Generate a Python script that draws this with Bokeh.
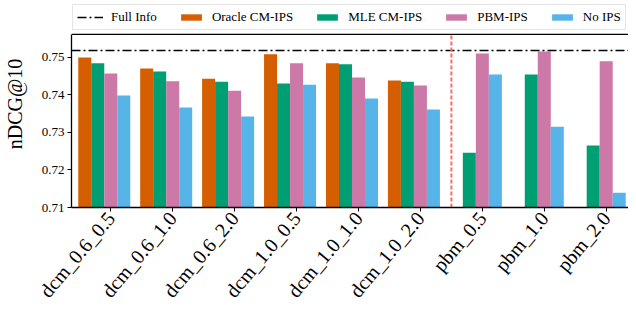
import math
from bokeh.plotting import figure
from bokeh.models import ColumnDataSource, Span, Legend, LegendItem, FixedTicker
from bokeh.embed import file_html
from bokeh.resources import INLINE

categories = ["dcm_0.6_0.5", "dcm_0.6_1.0", "dcm_0.6_2.0", "dcm_1.0_0.5", "dcm_1.0_1.0",
              "dcm_1.0_2.0", "pbm_0.5", "pbm_1.0", "pbm_2.0"]
oracle_cm_ips = [0.7499, 0.7470, 0.7443, 0.7508, 0.7484, 0.7438, None, None, None]
mle_cm_ips = [0.7484, 0.7462, 0.7435, 0.7430, 0.7481, 0.7435, 0.7246, 0.7454, 0.7265]
pbm_ips = [0.7457, 0.7436, 0.7411, 0.7484, 0.7446, 0.7425, 0.7510, 0.7515, 0.7489]
no_ips = [0.7398, 0.7366, 0.7342, 0.7427, 0.7390, 0.7361, 0.7454, 0.7315, 0.7139]
full_info = 0.7518
series_names = ["Oracle CM-IPS", "MLE CM-IPS", "PBM-IPS", "No IPS"]
series_values = [oracle_cm_ips, mle_cm_ips, pbm_ips, no_ips]
colors = ["#D55E00", "#009E73", "#CC79A7", "#56B4E9"]
y_ticks = [0.71, 0.72, 0.73, 0.74, 0.75]

FONT = "Liberation Serif"
bar_w = 0.21
offsets = [-2 * bar_w, -bar_w, 0.0, bar_w]
X_LO, X_HI = -0.634, 8.36
Y0, Y1 = 0.71, 0.7561          # axis limits of the plotting box
Y_EXT = 0.7651                 # range extended upward to leave room for the legend

p = figure(width=628, height=311, output_backend="svg", toolbar_location=None,
           x_range=(X_LO, X_HI), y_range=(Y0, Y_EXT),
           min_border_left=65, min_border_right=0, min_border_top=0, min_border_bottom=104)
p.xgrid.visible = False
p.ygrid.visible = False
p.outline_line_color = None

renderers = []
for name, vals, col, off in zip(series_names, series_values, colors, offsets):
    xs = [i + off for i, v in enumerate(vals) if v is not None]
    tops = [v for v in vals if v is not None]
    src = ColumnDataSource(dict(x=xs, top=tops))
    r = p.vbar(x="x", top="top", bottom=0.70, width=bar_w, source=src,
               fill_color=col, line_color=None)
    renderers.append((name, r))

# top spine of the plotting box
p.add_layout(Span(location=Y1, dimension="width", line_color="black", line_width=1.3))

# Full info reference line across the whole plot
full_line = p.line(x=[X_LO, X_HI], y=[full_info, full_info], line_color="black",
                   line_width=1.4, line_dash="9 3 2 3")

# separator between dcm and pbm groups
sep_x = (5 + 6) / 2
p.segment(x0=[sep_x], y0=[Y0], x1=[sep_x], y1=[Y1], line_color="#ff6b6b",
          line_width=2, line_dash="4 2")

# axes
p.xaxis.ticker = FixedTicker(ticks=list(range(len(categories))))
p.xaxis.major_label_overrides = {i: c for i, c in enumerate(categories)}
p.xaxis.major_label_orientation = math.radians(50)
p.xaxis.major_label_text_font = FONT
p.xaxis.major_label_text_font_size = "20px"
p.xaxis.major_label_text_color = "black"
p.yaxis.ticker = FixedTicker(ticks=y_ticks)
p.yaxis.bounds = (Y0, Y1)
p.yaxis.major_label_overrides = {t: f"{t:.2f}" for t in y_ticks}
p.yaxis.major_label_text_font = FONT
p.yaxis.major_label_text_font_size = "13px"
p.yaxis.major_label_text_color = "black"
p.yaxis.axis_label = "nDCG@10"
p.yaxis.axis_label_text_font = FONT
p.yaxis.axis_label_text_font_size = "20px"
p.yaxis.axis_label_text_font_style = "normal"
p.yaxis.axis_label_text_color = "black"
p.yaxis.axis_label_standoff = 13
for ax in (p.xaxis, p.yaxis):
    ax.axis_line_color = "black"
    ax.axis_line_width = 1.3
    ax.major_tick_line_color = "black"
    ax.major_tick_out = 4
    ax.major_tick_in = 0
    ax.minor_tick_line_color = None
    ax.major_label_standoff = 3

items = [LegendItem(label="Full Info", renderers=[full_line])]
items += [LegendItem(label=n, renderers=[r]) for n, r in renderers]
legend = Legend(items=items, orientation="horizontal", location=(1, 177),
                label_text_font=FONT, label_text_font_size="13px",
                label_text_color="black",
                label_height=14, glyph_height=8, glyph_width=26,
                label_standoff=8, spacing=21, padding=4, margin=0,
                border_line_color="#cccccc", border_line_width=1,
                background_fill_color="white", background_fill_alpha=1.0)
p.add_layout(legend, "center")

open("out.html", "w").write(file_html(p, INLINE))
